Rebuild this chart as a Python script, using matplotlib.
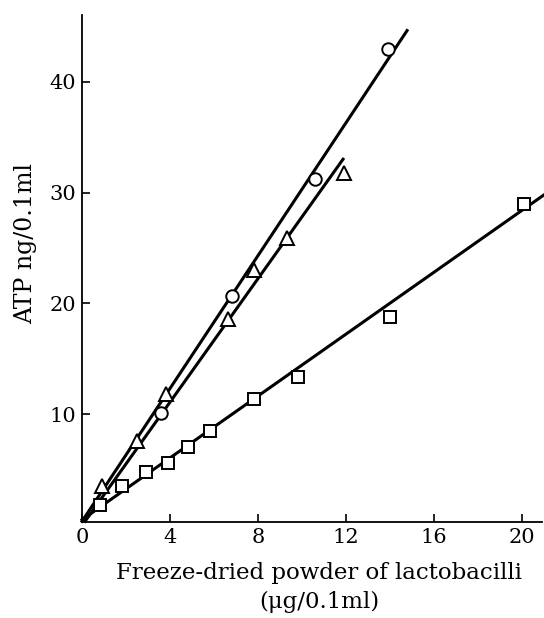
import matplotlib.pyplot as plt

# ---- datos ----
circ_x = [3.6, 6.8, 10.6, 13.9]
circ_y = [10.1, 20.7, 31.2, 42.9]

tri_x = [0.9, 2.5, 3.8, 6.65, 7.8, 9.3, 11.9]
tri_y = [3.5, 7.6, 11.8, 18.6, 23.0, 25.9, 31.8]

sq_x = [0.8, 1.8, 2.9, 3.9, 4.8, 5.8, 7.8, 9.8, 14.0, 20.1]
sq_y = [1.8, 3.5, 4.8, 5.6, 7.1, 8.5, 11.4, 13.4, 18.8, 29.0]

# rectas de regresión (extremos leídos)
circ_line_x = [0.0, 14.77]
circ_line_y = [0.36, 44.6]
tri_line_x = [0.14, 11.86]
tri_line_y = [0.36, 33.0]
sq_line_x = [0.0, 21.0]
sq_line_y = [0.5, 29.8]

xticks = [0, 4, 8, 12, 16, 20]
yticks = [10, 20, 30, 40]

plt.rcParams['font.family'] = ['DejaVu Serif']

fig = plt.figure(figsize=(5.44, 6.18), dpi=100)
fig.patch.set_facecolor('white')
ax = fig.add_axes([82 / 544, 1 - 522 / 618, 460 / 544, 507 / 618])

for side in ['top', 'right']:
    ax.spines[side].set_visible(False)
for side in ['left', 'bottom']:
    ax.spines[side].set_linewidth(1.3)

lw = 2.2
ax.plot(circ_line_x, circ_line_y, color='black', linewidth=lw, clip_on=False)
ax.plot(tri_line_x, tri_line_y, color='black', linewidth=lw, clip_on=False)
ax.plot(sq_line_x, sq_line_y, color='black', linewidth=lw, clip_on=False)

ax.plot(circ_x, circ_y, linestyle='none', marker='o', markersize=9,
        markerfacecolor='white', markeredgecolor='black', markeredgewidth=1.4, zorder=3)
ax.plot(tri_x, tri_y, linestyle='none', marker='^', markersize=10,
        markerfacecolor='white', markeredgecolor='black', markeredgewidth=1.4, zorder=3)
ax.plot(sq_x, sq_y, linestyle='none', marker='s', markersize=8,
        markerfacecolor='white', markeredgecolor='black', markeredgewidth=1.4, zorder=3)

ax.set_xlim(0, 20.9)
ax.set_ylim(0.3, 46)

ax.set_xticks(xticks)
ax.set_yticks(yticks)
ax.tick_params(axis='both', direction='in', length=6, width=1.2, labelsize=15, pad=4)

ax.set_xlabel('Freeze-dried powder of lactobacilli\n(μg/0.1ml)', fontsize=16.5,
              linespacing=1.45)
ax.set_ylabel('ATP ng/0.1ml', fontsize=17)
ax.yaxis.set_label_coords(-0.097, 0.55)
ax.xaxis.set_label_coords(0.515, -0.078)
ax.xaxis.label.set_va('top')

plt.savefig('out.png', dpi=100)
plt.close()
